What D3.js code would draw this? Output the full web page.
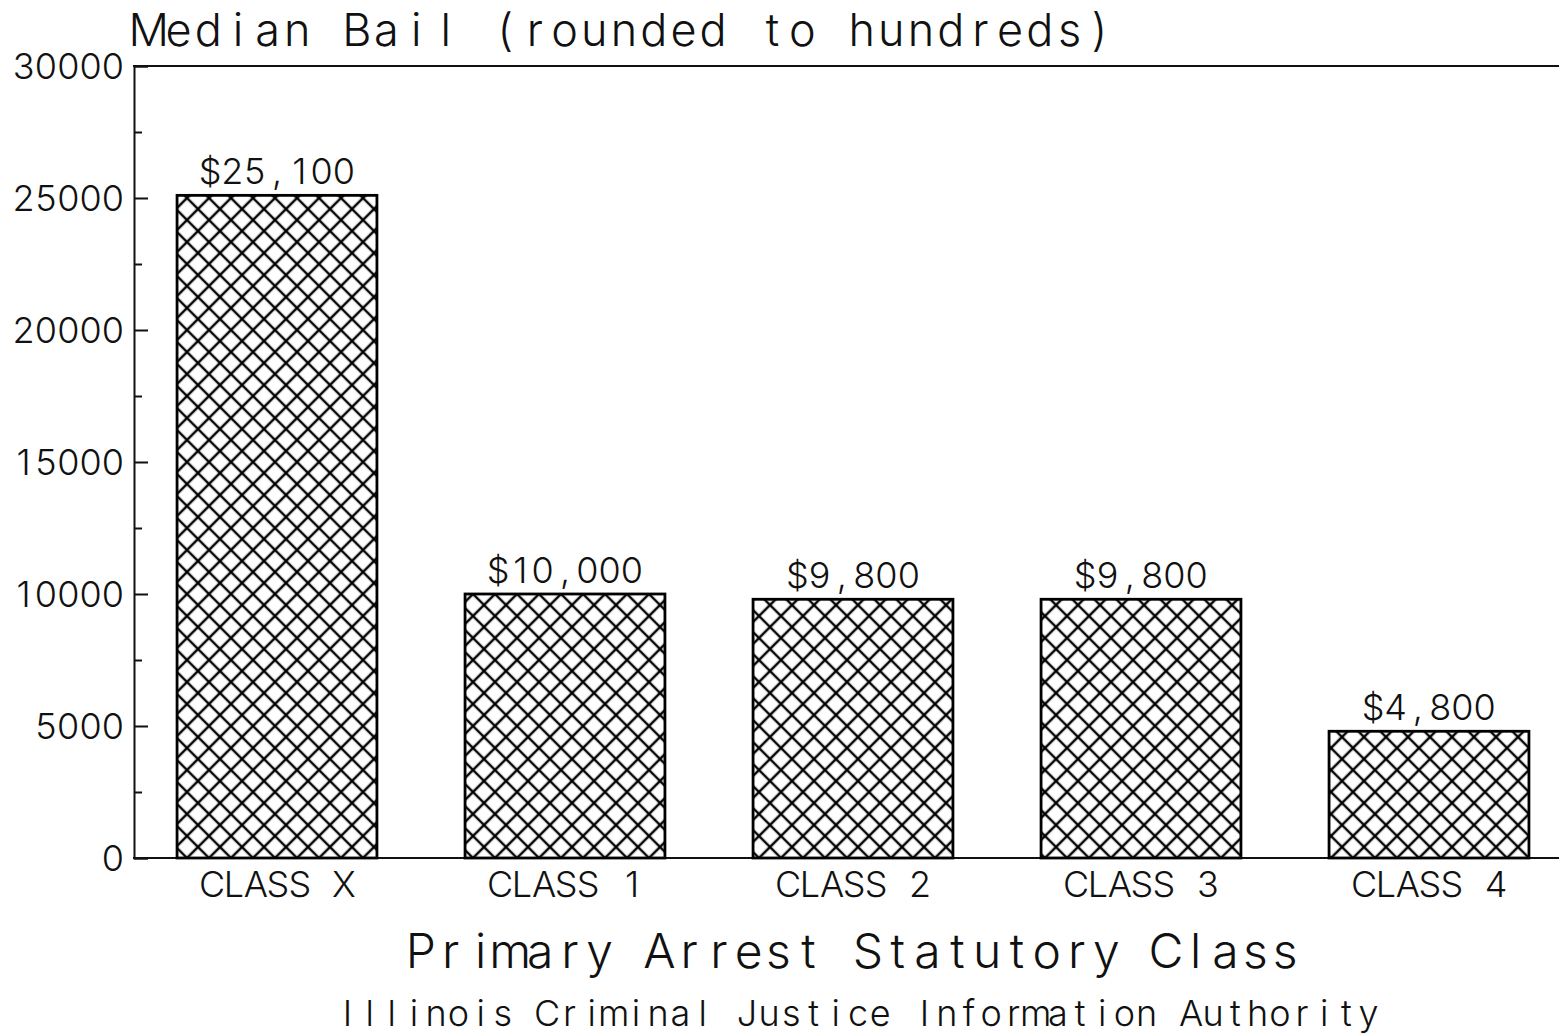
<!DOCTYPE html>
<html>
<head>
<meta charset="utf-8">
<script src="https://d3js.org/d3.v7.min.js"></script>
<style>
  html, body { margin: 0; padding: 0; background: #fff; }
  svg { display: block; }
  text { font-family: "Inter", "DejaVu Sans", sans-serif; font-weight: 300; fill: #111; }
</style>
</head>
<body>
<script>
const categories = ["CLASS X", "CLASS 1", "CLASS 2", "CLASS 3", "CLASS 4"];
const values = [25100, 10000, 9800, 9800, 4800];
const yTicks = [0, 5000, 10000, 15000, 20000, 25000, 30000];
const yMinorTicks = [2500, 7500, 12500, 17500, 22500, 27500];
const titleText = "Median Bail (rounded to hundreds)";
const xTitleText = "Primary Arrest Statutory Class";
const footerText = "Illinois Criminal Justice Information Authority";

const W = 1559, H = 1036;
const svg = d3.select("body").append("svg").attr("width", W).attr("height", H);

const x = d3.scaleBand().domain(categories).range([133, 1573]).paddingInner(0.306).paddingOuter(0.153);
const y = d3.scaleLinear().domain([0, 30000]).range([858, 66]);

// fixed-pitch (plotter-like) text helper
const measure = svg.append("text").attr("x", -1000).attr("y", -1000);
function glyphW(ch, size) {
  measure.attr("font-size", size).text(ch === " " ? "\u00a0" : ch);
  return measure.node().getComputedTextLength();
}
function pitchText(sel, str, size, pitch, anchor, ax) {
  const n = str.length;
  const total = n * pitch;
  let start = anchor === "middle" ? ax - total / 2 : anchor === "end" ? ax - total : ax;
  const xs = [];
  for (let i = 0; i < n; i++) {
    const w = glyphW(str[i], size);
    xs.push((start + i * pitch + (pitch - w) / 2).toFixed(2));
  }
  sel.attr("font-size", size).attr("x", xs.join(" ")).attr("text-anchor", "start").text(str);
}

// hatch pattern
const defs = svg.append("defs");
const s = 22 / Math.SQRT2;
const pat = defs.append("pattern")
  .attr("id", "hatch")
  .attr("patternUnits", "userSpaceOnUse")
  .attr("width", s).attr("height", s)
  .attr("patternTransform", "rotate(45)");
pat.append("path")
  .attr("d", `M0,${s/2}H${s}M${s/2},0V${s}`)
  .attr("stroke", "#000").attr("stroke-width", 2.5);

// frame: top line and baseline
svg.append("line").attr("x1", 133).attr("x2", 1573).attr("y1", y(30000)).attr("y2", y(30000))
  .attr("stroke", "#111").attr("stroke-width", 2);
svg.append("line").attr("x1", 133).attr("x2", 1573).attr("y1", y(0)).attr("y2", y(0))
  .attr("stroke", "#111").attr("stroke-width", 2);

// left axis with inward ticks
const yAxis = d3.axisRight(y).tickValues(yTicks).tickSize(14).tickFormat("");
const gAxis = svg.append("g").attr("transform", "translate(134,0)").call(yAxis);
gAxis.select(".domain").attr("stroke", "#111").attr("stroke-width", 2);
gAxis.selectAll(".tick line").attr("stroke", "#111").attr("stroke-width", 2);
const yMinor = d3.axisRight(y).tickValues(yMinorTicks).tickSize(8).tickFormat("");
const gMinor = svg.append("g").attr("transform", "translate(134,0)").call(yMinor);
gMinor.select(".domain").remove();
gMinor.selectAll(".tick line").attr("stroke", "#111").attr("stroke-width", 2);

// tick labels
svg.append("g").selectAll("text").data(yTicks).join("text")
  .attr("y", d => y(d) + 13)
  .each(function(d) { pitchText(d3.select(this), String(d), 36, 22.3, "end", 124); });

// bars
svg.append("g").selectAll("rect").data(values).join("rect")
  .attr("x", (d, i) => x(categories[i]))
  .attr("y", d => y(d))
  .attr("width", x.bandwidth())
  .attr("height", d => y(0) - y(d))
  .attr("fill", "url(#hatch)")
  .attr("stroke", "#000").attr("stroke-width", 2.8);

// value labels
const fmt = d3.format("$,");
svg.append("g").selectAll("text").data(values).join("text")
  .attr("y", d => y(d) - 11)
  .each(function(d, i) {
    pitchText(d3.select(this), fmt(d), 36, 22.3, "middle", x(categories[i]) + x.bandwidth() / 2);
  });

// category labels
svg.append("g").selectAll("text").data(categories).join("text")
  .attr("y", 897)
  .each(function(d) {
    pitchText(d3.select(this), d, 36, 22.0, "middle", x(d) + x.bandwidth() / 2 + 1);
  });

// title
pitchText(svg.append("text").attr("y", 46), titleText, 45, 29.7, "start", 134);

// x axis title
pitchText(svg.append("text").attr("y", 968), xTitleText, 48, 29.8, "middle", 853);

// footer
pitchText(svg.append("text").attr("y", 1026), footerText, 36, 22.2, "middle", 858);

measure.remove();
</script>
</body>
</html>
